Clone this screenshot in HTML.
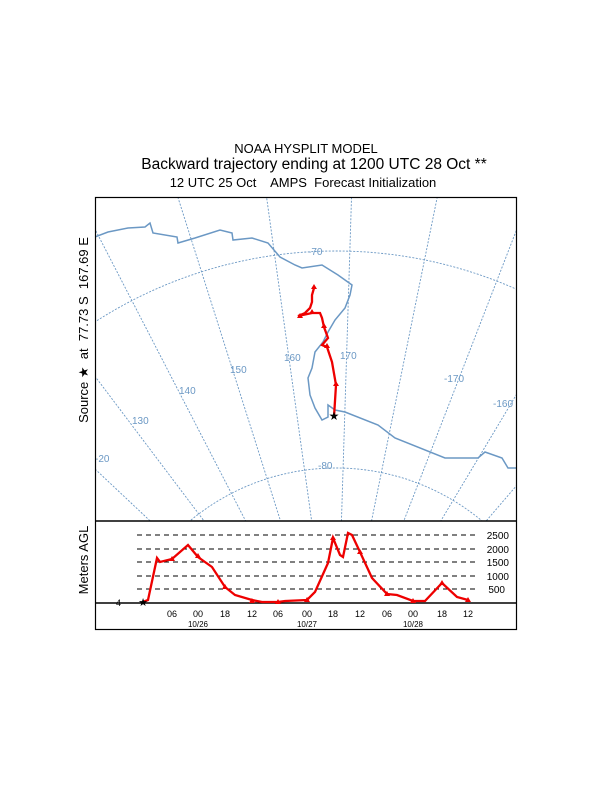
<!DOCTYPE html>
<html><head><style>html,body{margin:0;padding:0;background:#fff;overflow:hidden;width:612px;height:792px;position:relative}svg{position:absolute;left:0;top:0;display:block}</style></head>
<body>
<svg width="612" height="792" viewBox="0 0 612 792" xmlns="http://www.w3.org/2000/svg" font-family="Liberation Sans, sans-serif" overflow="hidden">
<defs><clipPath id="m"><rect x="96" y="198" width="420" height="323"/></clipPath></defs>
<text x="306" y="153" font-size="13" text-anchor="middle">NOAA HYSPLIT MODEL</text>
<text x="314" y="169" font-size="15.5" text-anchor="middle">Backward trajectory ending at 1200 UTC 28 Oct **</text>
<text x="303" y="187" font-size="13" text-anchor="middle" xml:space="preserve">12 UTC 25 Oct    AMPS  Forecast Initialization</text>
<g clip-path="url(#m)" stroke="#6b98c4" fill="none">
<g stroke-width="0.9" stroke-dasharray="2,1.5">
<circle cx="336" cy="696" r="445"/><circle cx="336" cy="696" r="228"/>
<path d="M336 696L-561 625M336 696L-536 475M336 696L-487 331M336 696L-414 198M336 696L-319 79M336 696L-206 -23M336 696L-77 -104M336 696L64 -162M336 696L212 -195M336 696L364 -204M336 696L515 -186M336 696L661 -143M336 696L798 -76M336 696L922 13M336 696L1028 121M336 696L1115 246M336 696L1180 384"/>
</g>
<polyline stroke-width="1.5" points="95,237 108,232 128,228 145,227 150,223 153,233 177,237 178,243 195,238 220,230 232,233 233,240 252,238 268,243 280,257 295,265 302,268 322,265 338,275 352,285 350,295 345,308 335,320 328,332 323,342 315,352 312,368 308,378 310,395 315,408 322,420 328,417 328,405 335,410 345,412 378,425 395,438 445,458 478,458 485,452 502,458 508,468 517,468"/>
</g>
<g font-size="10" fill="#6b98c4">
<text x="308" y="255">-70</text><text x="318" y="469">-80</text>
<text x="284" y="361">160</text><text x="340" y="359">170</text>
<text x="230" y="373">150</text><text x="179" y="394">140</text>
<text x="132" y="424">130</text><text x="95" y="462">-20</text>
<text x="444" y="382">-170</text><text x="493" y="407">-160</text>
</g>
<polyline fill="none" stroke="#e00" stroke-width="2.3" points="334,417 336,385 332,362 327,347 322,345 328,338 324,327 322,318 320,313 312,313 298,316 305,313 310,308 312,302 312,295 314,288"/>
<g fill="#e00"><path d="M336,381l-3,5h6z"/><path d="M327,343l-3,5h6z"/><path d="M324,323l-3,5h6z"/><path d="M312,309l-3,5h6z"/><path d="M300,313l-3,5h6z"/><path d="M314,284l-3,5h6z"/></g>
<text x="334" y="420" font-size="12" text-anchor="middle">★</text>
<rect x="95.5" y="197.5" width="421" height="432" fill="none" stroke="#000" stroke-width="1.2"/>
<line x1="95" y1="521" x2="517" y2="521" stroke="#000" stroke-width="1.5"/>
<g stroke="#000" stroke-width="1" stroke-dasharray="5,4">
<line x1="137" y1="535" x2="476" y2="535"/><line x1="137" y1="549" x2="476" y2="549"/><line x1="137" y1="562" x2="476" y2="562"/><line x1="137" y1="576" x2="476" y2="576"/><line x1="137" y1="589" x2="476" y2="589"/>
</g>
<g font-size="10" text-anchor="end"><text x="509" y="539">2500</text><text x="509" y="553">2000</text><text x="509" y="566">1500</text><text x="509" y="580">1000</text><text x="505" y="593">500</text></g>
<line x1="95" y1="603" x2="517" y2="603" stroke="#000" stroke-width="1.5"/>
<text x="116" y="606" font-size="9">4</text>
<polyline fill="none" stroke="#e00" stroke-width="2.3" points="143,602 148,600 157,558 160,562 172,559 188,545 198,557 212,567 225,587 235,595 252,600 262,602 278,602 285,601 307,600 315,592 328,563 333,538 340,555 343,557 348,533 352,535 360,552 372,578 387,594 397,595 413,601 425,601 442,583 457,597 468,600"/>
<g fill="#e00"><path d="M172,556l-3,5h6z"/><path d="M198,553l-3,5h6z"/><path d="M225,584l-3,5h6z"/><path d="M252,598l-3,5h6z"/><path d="M278,599l-3,5h6z"/><path d="M307,597l-3,5h6z"/><path d="M333,535l-3,5h6z"/><path d="M360,549l-3,5h6z"/><path d="M387,591l-3,5h6z"/><path d="M413,598l-3,5h6z"/><path d="M442,580l-3,5h6z"/><path d="M468,597l-3,5h6z"/></g>
<text x="143" y="606" font-size="11" text-anchor="middle">★</text>
<g font-size="9" text-anchor="middle">
<text x="172" y="617">06</text><text x="198" y="617">00</text><text x="225" y="617">18</text><text x="252" y="617">12</text><text x="278" y="617">06</text><text x="307" y="617">00</text><text x="333" y="617">18</text><text x="360" y="617">12</text><text x="387" y="617">06</text><text x="413" y="617">00</text><text x="442" y="617">18</text><text x="468" y="617">12</text>
<text x="198" y="627" font-size="8">10/26</text><text x="307" y="627" font-size="8">10/27</text><text x="413" y="627" font-size="8">10/28</text>
</g>
<text transform="translate(88,330) rotate(-90)" font-size="13" text-anchor="middle" xml:space="preserve">Source ★  at  77.73 S  167.69 E</text>
<text transform="translate(88,560) rotate(-90)" font-size="13" text-anchor="middle">Meters AGL</text>
</svg>
</body></html>
